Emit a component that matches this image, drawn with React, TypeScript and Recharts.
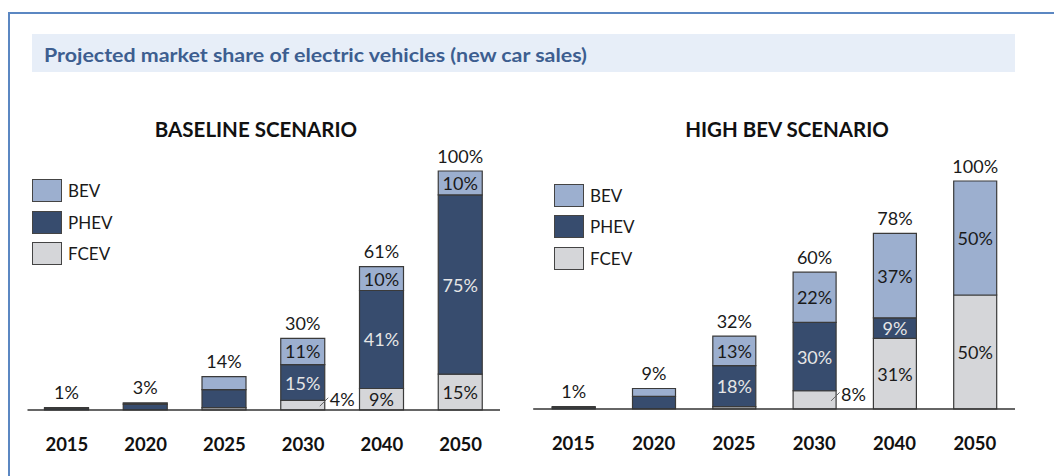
import { BarChart, Bar, XAxis, YAxis, LabelList } from "recharts";

const years = ["2015", "2020", "2025", "2030", "2040", "2050"];

// baseline scenario, % of new car sales
const baseFcev = [0, 0, 1, 4, 9, 15];
const basePhev = [0.7, 2.5, 7.5, 15, 41, 75];
const baseBev = [0.3, 0.5, 5.5, 11, 10, 10];
const baseTotal = [1, 3, 14, 30, 61, 100];
const baseLabelled = [false, false, false, true, true, true];

// high BEV scenario
const highFcev = [0, 0, 1, 8, 31, 50];
const highPhev = [0.7, 5.5, 18, 30, 9, 0];
const highBev = [0.3, 3.5, 13, 22, 37, 50];
const highTotal = [1, 9, 32, 60, 78, 100];
const highLabelled = [false, false, true, true, true, true];

const FONT = "Lato, 'Open Sans', sans-serif";
const BEV_C = "#9cafcf";
const PHEV_C = "#374c6e";
const FCEV_C = "#d5d6d9";
const EDGE = "#3a3a3a";
const W = 527;
const H = 476;

const YearTick = (p: any) => (
  <text
    x={p.x}
    y={p.y + 33.5}
    textAnchor="middle"
    dominantBaseline="central"
    fontFamily={FONT}
    fontWeight={700}
    fontSize={18.5}
    fill="#111"
  >
    {p.payload.value}
  </text>
);

// zero-height segments are skipped by LabelList, so find the category from the bar position
const segLabel = (vals: number[], labelled: boolean[], dark: boolean, x0: number, band: number) => (p: any) => {
  const { x, y, width, height } = p;
  const i = Math.floor((x + width / 2 - x0) / band);
  const v = vals[i];
  // slivers under 2% carry no label in the source
  if (!labelled[i] || !v || v < 2) return null;
  const cy = y + height / 2;
  if (v < 9) {
    const r = x + width;
    return (
      <g>
        <line x1={r - 5} y1={cy + 1} x2={r + 3.5} y2={cy - 7.5} stroke="#666" strokeWidth={1} />
        <text x={r + 5} y={cy - 6} dominantBaseline="central" fontFamily={FONT} fontSize={18} fill="#1a1a1a">
          {v}%
        </text>
      </g>
    );
  }
  return (
    <text
      x={x + width / 2}
      y={cy}
      textAnchor="middle"
      dominantBaseline="central"
      fontFamily={FONT}
      fontSize={18}
      fill={dark ? "#e6e6e6" : "#1a1a1a"}
    >
      {v}%
    </text>
  );
};

const totalLabel = (totals: number[], x0: number, band: number) => (p: any) => {
  const i = Math.floor((p.x + p.width / 2 - x0) / band);
  return (
    <text
      x={p.x + p.width / 2}
      y={p.y - 15.5}
      textAnchor="middle"
      dominantBaseline="central"
      fontFamily={FONT}
      fontSize={18}
      fill="#1a1a1a"
    >
      {totals[i]}%
    </text>
  );
};

function Legend({ x, y, gap }: { x: number; y: number; gap: number }) {
  const items = [
    { name: "BEV", c: BEV_C },
    { name: "PHEV", c: PHEV_C },
    { name: "FCEV", c: FCEV_C },
  ];
  return (
    <>
      {items.map((it, i) => (
        <div key={it.name} style={{ position: "absolute", left: x, top: y + i * gap, height: 23, display: "flex", alignItems: "center" }}>
          <div style={{ width: 30, height: 23, boxSizing: "border-box", background: it.c, border: "1.5px solid #444" }} />
          <span style={{ marginLeft: 6, fontFamily: FONT, fontSize: 17, color: "#1a1a1a" }}>{it.name}</span>
        </div>
      ))}
    </>
  );
}

function Scenario(props: {
  left: number;
  title: string;
  titleX: number;
  fcev: number[];
  phev: number[];
  bev: number[];
  totals: number[];
  labelled: boolean[];
  margin: { top: number; right: number; bottom: number; left: number };
  axisH: number;
  barSize: number;
}) {
  const { fcev, phev, bev, labelled, margin } = props;
  const rows = years.map((y, i) => ({ year: y, fcev: fcev[i], phev: phev[i], bev: bev[i] }));
  const x0 = margin.left;
  const band = (W - margin.left - margin.right) / years.length;
  return (
    <>
      <div
        style={{
          position: "absolute",
          left: props.titleX - 150,
          top: 117,
          width: 300,
          textAlign: "center",
          fontFamily: FONT,
          fontWeight: 700,
          fontSize: 20.5,
          color: "#111",
          lineHeight: "24px",
        }}
      >
        {props.title}
      </div>
      <div style={{ position: "absolute", left: props.left, top: 0 }}>
        <BarChart width={W} height={H} data={rows} margin={margin} barCategoryGap={0}>
          <XAxis
            dataKey="year"
            height={props.axisH}
            tickLine={false}
            tickSize={0}
            tickMargin={0}
            interval={0}
            axisLine={{ stroke: "#333", strokeWidth: 1.5 }}
            tick={YearTick}
          />
          <YAxis hide domain={[0, 100]} />
          <Bar dataKey="fcev" stackId="s" fill={FCEV_C} stroke={EDGE} strokeWidth={1.2} barSize={props.barSize} isAnimationActive={false}>
            <LabelList content={segLabel(fcev, labelled, false, x0, band)} />
          </Bar>
          <Bar dataKey="phev" stackId="s" fill={PHEV_C} stroke={EDGE} strokeWidth={1.2} barSize={props.barSize} isAnimationActive={false}>
            <LabelList content={segLabel(phev, labelled, true, x0, band)} />
          </Bar>
          <Bar dataKey="bev" stackId="s" fill={BEV_C} stroke={EDGE} strokeWidth={1.2} barSize={props.barSize} isAnimationActive={false}>
            <LabelList content={segLabel(bev, labelled, false, x0, band)} />
            <LabelList content={totalLabel(props.totals, x0, band)} />
          </Bar>
        </BarChart>
      </div>
    </>
  );
}

export default function App() {
  return (
    <div style={{ position: "absolute", left: 0, top: 0, width: 1054, height: 476, background: "#fff", overflow: "hidden" }}>
      <div
        style={{
          position: "absolute",
          left: 8,
          top: 12,
          width: 1060,
          height: 480,
          borderTop: "2px solid #5b87c2",
          borderLeft: "2px solid #5b87c2",
        }}
      />
      <div style={{ position: "absolute", left: 32, top: 34, width: 983, height: 38, background: "#e7eef8" }} />
      <svg style={{ position: "absolute", left: 0, top: 0 }} width={1054} height={80}>
        <text
          x={44}
          y={61.5}
          fontFamily={FONT}
          fontWeight={700}
          fontSize={19}
          fill="#3d5e90"
          textLength={543}
          lengthAdjust="spacingAndGlyphs"
        >
          Projected market share of electric vehicles (new car sales)
        </text>
      </svg>

      <Scenario
        left={0}
        title="BASELINE SCENARIO"
        titleX={256}
        fcev={baseFcev}
        phev={basePhev}
        bev={baseBev}
        totals={baseTotal}
        labelled={baseLabelled}
        margin={{ top: 171, right: 27, bottom: 0, left: 27.5 }}
        axisH={66}
        barSize={44}
      />
      <Scenario
        left={W}
        title="HIGH BEV SCENARIO"
        titleX={787}
        fcev={highFcev}
        phev={highPhev}
        bev={highBev}
        totals={highTotal}
        labelled={highLabelled}
        margin={{ top: 181, right: 39, bottom: 0, left: 6.2 }}
        axisH={67}
        barSize={43}
      />

      <Legend x={32} y={179} gap={31.5} />
      <Legend x={554} y={183.5} gap={31.5} />
    </div>
  );
}
